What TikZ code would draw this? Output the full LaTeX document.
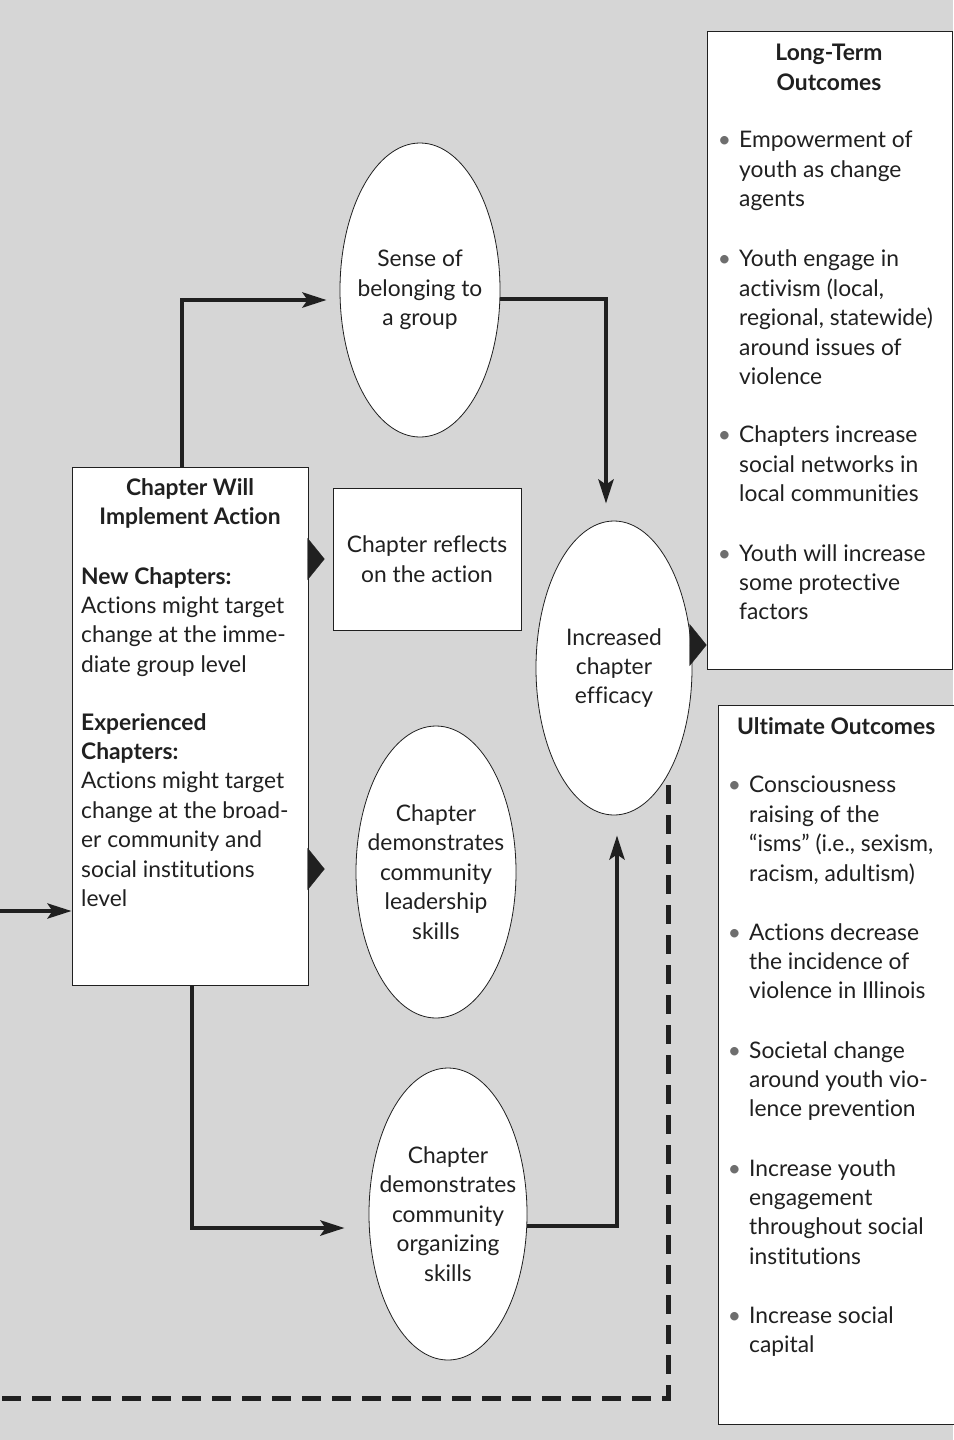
\documentclass[tikz,border=0pt]{standalone}
\usepackage{fontspec}
\setmainfont{Lato}[Ligatures={NoCommon}]
\usetikzlibrary{shapes.geometric,arrows.meta}
\definecolor{bg}{RGB}{214,214,214}
\definecolor{ink}{RGB}{32,32,32}
\definecolor{bul}{RGB}{110,110,110}
\newcommand{\bitem}{\llap{\textcolor{bul}{\textbullet}\hspace{8pt}}}
\begin{document}
\begin{tikzpicture}[x=1pt,y=-1pt,
  every node/.style={font=\fontsize{22.8}{29.4}\selectfont, text=ink},
  box/.style={draw=ink, line width=0.9pt, fill=white, inner sep=0, align=center},
  oval/.style={draw=ink, line width=0.8pt, fill=white, ellipse, inner xsep=-14pt, inner ysep=0pt, align=center},
  txt/.style={inner sep=0, align=left, anchor=north west},
  ctxt/.style={inner sep=0, align=center, anchor=north},
  flow/.style={draw=ink, line width=4.5pt, -{Stealth[length=24pt,width=15pt,inset=5pt]}},
  blockarrow/.style={draw=ink, fill=ink, line width=0.2pt, -{Triangle[length=17pt,width=42pt]}},
  feedback/.style={draw=ink, line width=5pt, dash pattern=on 19pt off 11pt}
]
\useasboundingbox (0,0) rectangle (953,1440);
\fill[bg] (0,0) rectangle (953,1440);

% shapes
\node[box, minimum width=236pt, minimum height=518pt] (main) at (190,726) {};
\node[box, minimum width=188pt, minimum height=142pt] (reflect) at (427,559) {Chapter reflects\\on the action};
\node[oval, minimum width=160pt, minimum height=294pt] (sense) at (420,290) {Sense of\\belonging to\\a group};
\node[oval, minimum width=156pt, minimum height=294pt] (eff) at (614,668) {Increased\\chapter\\efficacy};
\node[oval, minimum width=160pt, minimum height=292pt] (lead) at (436,872) {Chapter\\demonstrates\\community\\leadership\\skills};
\node[oval, minimum width=158pt, minimum height=292pt] (org) at (448,1214) {Chapter\\demonstrates\\community\\organizing\\skills};
\node[box, minimum width=245pt, minimum height=638pt] (lt) at (829.5,350) {};
\node[box, minimum width=240pt, minimum height=719pt] (ut) at (838,1064.5) {};

% main box text
\node[ctxt, font=\fontsize{22.8}{29.4}\selectfont\bfseries] (mhead) at (190,478) {Chapter Will\\Implement Action};
\node[txt] (mnew) at (81,567) {\textbf{New Chapters:}\\Actions might target\\change at the imme-\\diate group level};
\node[txt] (mexp) at (81,713) {\textbf{Experienced}\\\textbf{Chapters:}\\Actions might target\\change at the broad-\\er community and\\social institutions\\level};

% long-term text
\node[ctxt, font=\fontsize{22.8}{29.4}\selectfont\bfseries] (lthead) at (829,44) {Long-Term\\Outcomes};
\node[txt] (lt1) at (739,131) {\bitem Empowerment of\\youth as change\\agents};
\node[txt] (lt2) at (739,250) {\bitem Youth engage in\\activism (local,\\regional, statewide)\\around issues of\\violence};
\node[txt] (lt3) at (739,426) {\bitem Chapters increase\\social networks in\\local communities};
\node[txt] (lt4) at (739,544) {\bitem Youth will increase\\some protective\\factors};

% ultimate text
\node[txt, font=\fontsize{22.8}{29.4}\selectfont\bfseries] (uthead) at (737,717) {Ultimate Outcomes};
\node[txt] (ut1) at (749,776) {\bitem Consciousness\\raising of the\\“isms” (i.e., sexism,\\racism, adultism)};
\node[txt] (ut2) at (749,923) {\bitem Actions decrease\\the incidence of\\violence in Illinois};
\node[txt] (ut3) at (749,1041) {\bitem Societal change\\around youth vio-\\lence prevention};
\node[txt] (ut4) at (749,1159) {\bitem Increase youth\\engagement\\throughout social\\institutions};
\node[txt] (ut5) at (749,1306) {\bitem Increase social\\capital};

% coordinates
\coordinate (inflow) at (-4,911);
\coordinate (senseout) at ([yshift=-9pt]sense.east);
\coordinate (orgout) at ([yshift=-12pt]org.east);
\coordinate (effout) at ([yshift=23pt]eff.east);
\coordinate (fbstart) at (668,785);
\coordinate (fbend) at (-6,1398);

% connectors
\draw[flow, shorten >=13pt] ([xshift=-8pt]main.north) |- ([yshift=-10pt]sense.west);
\draw[flow, shorten >=17pt] (senseout) -| ([xshift=-8pt]eff.north);
\draw[flow, shorten >=24pt] ([xshift=2pt]main.south) |- ([yshift=-14pt]org.west);
\draw[flow, shorten >=20pt] (orgout) -| ([xshift=3pt]eff.south);
\draw[flow, line width=4pt] (inflow) -- (main.west |- inflow);

\draw[blockarrow, shorten >=8pt] (main.east |- reflect.west) -- (reflect.west);
\draw[blockarrow, shorten >=31pt] ([yshift=3pt]main.east |- lead.west) -- ([yshift=3pt]lead.west);
\draw[blockarrow] (effout) -- (effout -| lt.west);

\draw[feedback] (fbstart) |- (fbend);
\end{tikzpicture}
\end{document}
